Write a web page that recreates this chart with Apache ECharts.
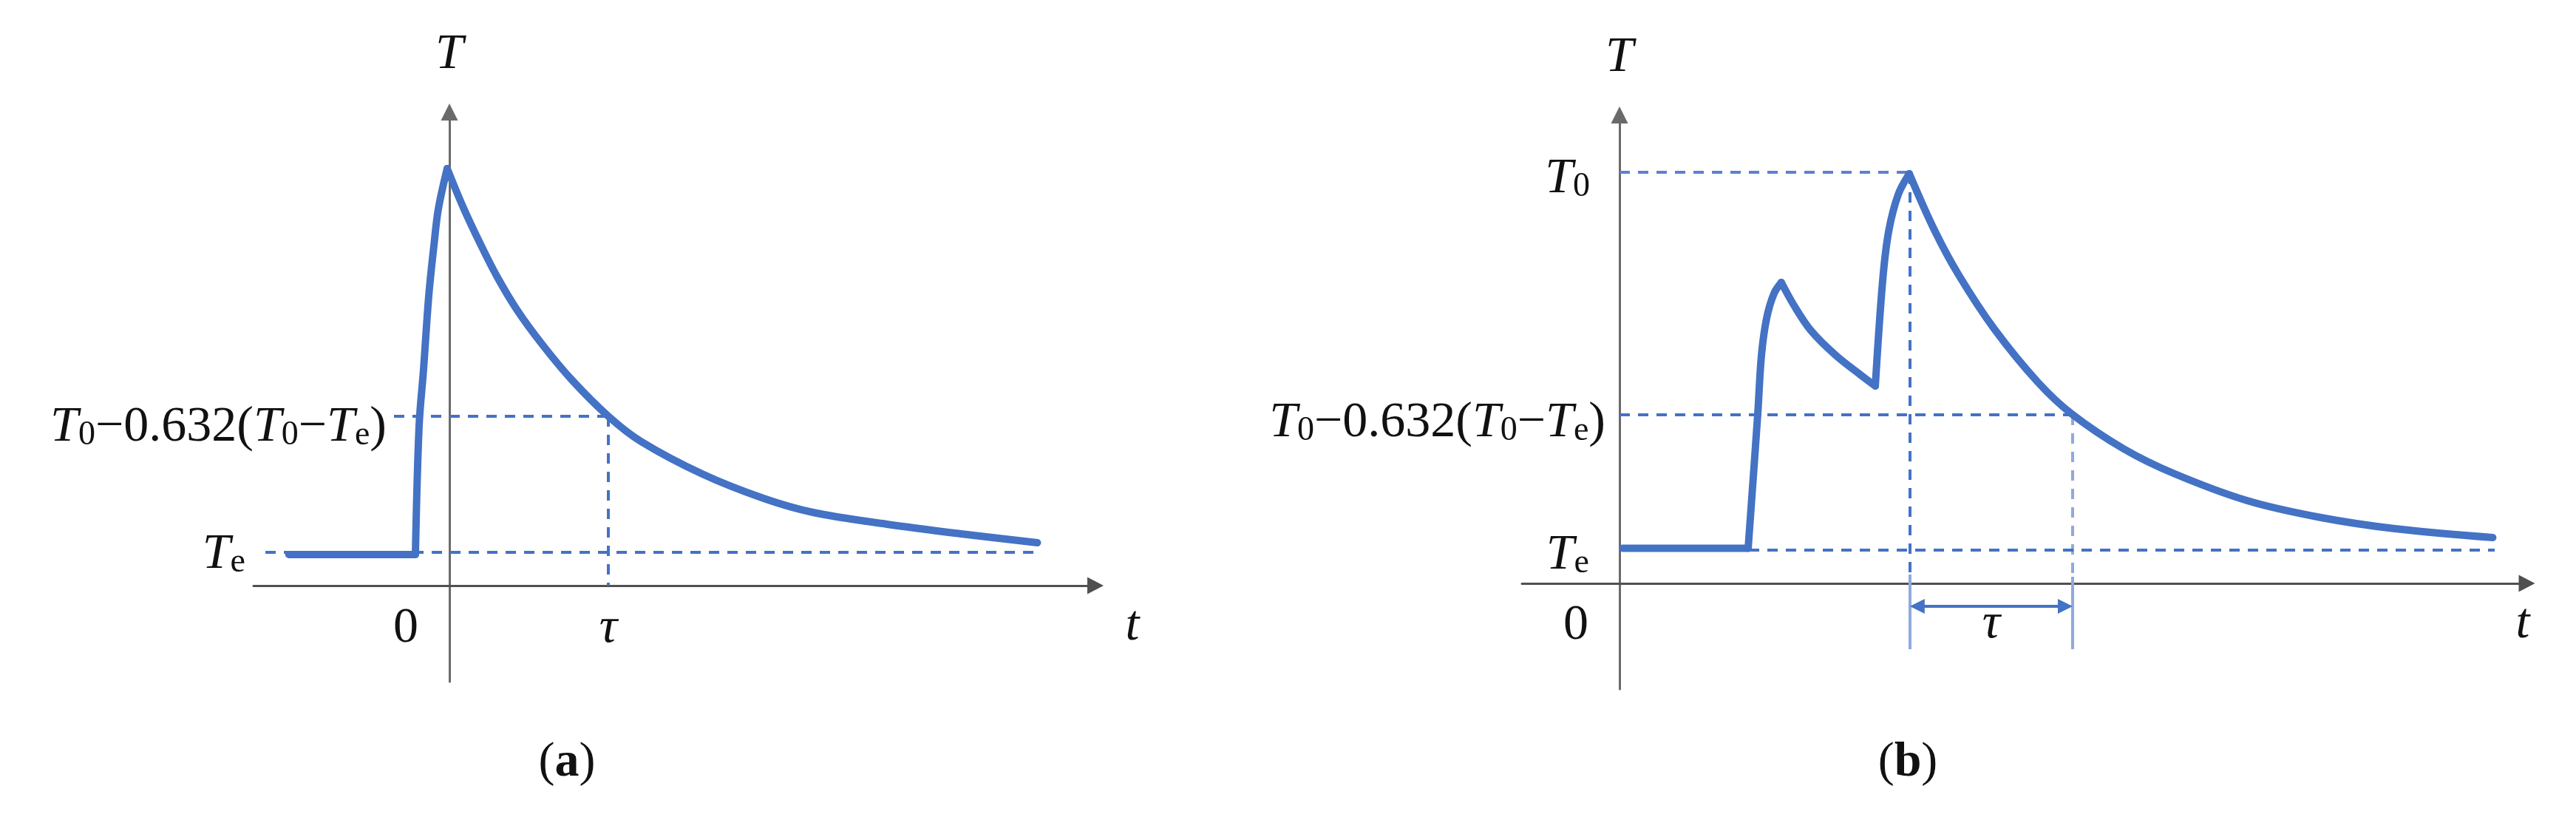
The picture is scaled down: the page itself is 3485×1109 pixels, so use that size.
<!DOCTYPE html>
<html>
<head>
<meta charset="utf-8">
<script src="https://cdn.jsdelivr.net/npm/echarts@6/dist/echarts.min.js"></script>
<style>
html,body{margin:0;padding:0;background:#ffffff;}
#chart{width:3485px;height:1109px;}
</style>
</head>
<body>
<div id="chart"></div>
<script>
// ---------------- data ----------------
// time t in units of tau; temperature in arbitrary units with the t axis at 0
// panel (a): single heating pulse then exponential cooling
const flatA = [[-1.01, 0.84], [-0.214, 0.84]];
const riseA = [[-0.214, 0.84], [-0.191, 4.30], [-0.163, 5.84], [-0.130, 7.84],
  [-0.098, 9.18], [-0.070, 10.18], [-0.014, 11.28]];
const decayA = [[-0.014, 11.28], [0.088, 10.22], [0.195, 9.24], [0.302, 8.34],
  [0.428, 7.44], [0.581, 6.54], [0.767, 5.58], [1.0, 4.58], [1.205, 3.90],
  [1.591, 3.02], [1.977, 2.36], [2.288, 1.98], [2.753, 1.66], [3.219, 1.40], [3.70, 1.16]];
const levelsA = [11.14, 4.58, 0.90];          // T0, T0-0.632(T0-Te), Te
const tauA = 1.0;                             // position of tau on the t axis
const spanT0A = [-1.237, -0.093];
const spanLevelA = [-0.349, 1.0];
const spanTeA = [-1.158, 3.684];
const xRangeA = [-1.2326, 4.0651];
const yRangeA = [-2.60, 12.81];

// panel (b): two heating pulses then exponential cooling
const flatB = [[0.02, 0.95], [0.791, 0.95]];
const rise1B = [[0.791, 0.95], [0.850, 4.58], [0.873, 6.18], [0.905, 7.18], [0.950, 7.84], [0.995, 8.14]];
const decay1B = [[0.995, 8.14], [1.073, 7.52], [1.177, 6.84], [1.327, 6.18], [1.482, 5.64], [1.573, 5.34]];
const rise2B = [[1.573, 5.34], [1.618, 8.18], [1.655, 9.52], [1.714, 10.52], [1.782, 11.08]];
const decay2B = [[1.782, 11.08], [1.936, 9.56], [2.086, 8.34], [2.305, 6.88], [2.573, 5.44],
  [2.782, 4.58], [3.100, 3.64], [3.405, 2.98], [3.859, 2.24], [4.314, 1.78],
  [4.768, 1.48], [5.37, 1.24]];
const levelsB = [11.12, 4.56, 0.90];          // T0, T0-0.632(T0-Te), Te
const peakB = [1.786, 11.08];                 // peak used as start of tau
const tauEndB = 2.786;
const spanTeB = [0, 5.382];
const extLeftB = [0.24, -1.78];
const extRightB = [0.18, -1.78];
const arrowYB = -0.62;
const arrowInset = 0.045;
const xRangeB = [-0.6, 5.5795];
const yRangeB = [-2.86, 12.67];

// texts
const levelLabels = ['{i|T}{s|0}', '{i|T}{s|0}{r|−0.632(}{i|T}{s|0}{r|−}{i|T}{s|e}{r|)}', '{i|T}{s|e}'];
const tickValuesA = [0, 1];
const tickLabelsA = ['{z|0}', '{ti|τ}'];
const tickValuesB = [0];
const tickLabelsB = ['{z|0}'];
const axisNameY = 'T';
const axisNameX = 't';
const tauLabel = 'τ';
const captionLetters = ['a', 'b'];

// ---------------- styles ----------------
const FONT = 'Liberation Serif';
const INK = '#111111';
const BLUE = '#4472C4';
const LIGHT = '#8FAADC';
const MID = '#5B82CC';
const DASH = [14, 11];
const RICH = {
  i: {fontFamily: FONT, fontStyle: 'italic', fontSize: 68, lineHeight: 80, verticalAlign: 'bottom', color: INK},
  r: {fontFamily: FONT, fontSize: 68, lineHeight: 80, verticalAlign: 'bottom', color: INK},
  s: {fontFamily: FONT, fontSize: 46, lineHeight: 39, verticalAlign: 'bottom', color: INK},
  z: {fontFamily: FONT, fontSize: 68, lineHeight: 68, padding: [0, 118, 0, 0], color: INK},
  ti: {fontFamily: FONT, fontStyle: 'italic', fontSize: 68, lineHeight: 68, color: INK},
  b: {fontFamily: FONT, fontWeight: 'bold', fontSize: 66, lineHeight: 70, color: INK},
  p: {fontFamily: FONT, fontSize: 66, lineHeight: 70, color: INK}
};

function hLine(x1, x2, y, color, text, distance, padding) {
  const label = text ? {
    show: true, position: 'start', distance: distance, padding: padding,
    formatter: function () { return text; }, rich: RICH, color: INK
  } : {show: false};
  return [
    {coord: [x1, y], lineStyle: {color: color, width: 4, type: DASH}, label: label},
    {coord: [x2, y]}
  ];
}
function vLine(x, y1, y2, color, type, width) {
  return [
    {coord: [x, y1], lineStyle: {color: color, width: width || 4, type: type || DASH}, label: {show: false}},
    {coord: [x, y2]}
  ];
}

function xAxisCfg(gridIndex, range, ticks, labels, nameGap, margin) {
  return {
    gridIndex: gridIndex, type: 'value', min: range[0], max: range[1],
    axisLine: {onZero: true, symbol: ['none', 'triangle'], symbolSize: [23, 22],
      lineStyle: {color: '#505050', width: 3}},
    axisTick: {show: false}, splitLine: {show: false},
    axisLabel: {
      customValues: ticks, margin: margin, rich: RICH,
      formatter: function (v) {
        for (let k = 0; k < ticks.length; k++) if (Math.abs(ticks[k] - v) < 1e-9) return labels[k];
        return '';
      }
    },
    name: axisNameX, nameLocation: 'end', nameGap: nameGap,
    nameTextStyle: {fontFamily: FONT, fontStyle: 'italic', fontSize: 68, lineHeight: 68,
      align: 'center', verticalAlign: 'top', padding: [21, 0, 0, 0], color: INK}
  };
}
function yAxisCfg(gridIndex, range) {
  return {
    gridIndex: gridIndex, type: 'value', min: range[0], max: range[1],
    axisLine: {onZero: true, symbol: ['none', 'triangle'], symbolSize: [23, 23],
      lineStyle: {color: '#6a6a6a', width: 3}},
    axisTick: {show: false}, splitLine: {show: false}, axisLabel: {show: false},
    name: axisNameY, nameLocation: 'end', nameGap: 43.5,
    nameTextStyle: {fontFamily: FONT, fontStyle: 'italic', fontSize: 68, lineHeight: 68, color: INK}
  };
}

function seg(name, gi, data, smooth, extra) {
  const s = {
    name: name, type: 'line', xAxisIndex: gi, yAxisIndex: gi, data: data,
    showSymbol: false, symbol: 'none', smooth: smooth,
    lineStyle: {color: BLUE, width: 10, join: 'round', cap: 'round'}, z: 3, silent: true
  };
  if (extra) Object.assign(s, extra);
  return s;
}

const markA = {
  silent: true, symbol: 'none', animation: false, z: 1, label: {show: false},
  data: [
    hLine(spanT0A[0], spanT0A[1], levelsA[0], LIGHT, levelLabels[0], 32, [10, 0, 0, 0]),
    hLine(spanLevelA[0], spanLevelA[1], levelsA[1], BLUE, levelLabels[1], 10, [18, 0, 0, 0]),
    vLine(tauA, levelsA[1], 0, BLUE),
    hLine(spanTeA[0], spanTeA[1], levelsA[2], BLUE, levelLabels[2], 27, [0, 0, 6, 0])
  ]
};
const markB = {
  silent: true, symbol: 'none', animation: false, z: 1, label: {show: false},
  data: [
    hLine(0, peakB[0], levelsB[0], MID, levelLabels[0], 40, [6, 0, 0, 0]),
    vLine(peakB[0], peakB[1], 0, BLUE),
    hLine(0, tauEndB, levelsB[1], BLUE, levelLabels[1], 19, [10, 0, 0, 0]),
    vLine(tauEndB, levelsB[1], 0, LIGHT),
    hLine(spanTeB[0], spanTeB[1], levelsB[2], BLUE, levelLabels[2], 41, [2, 0, 0, 0]),
    vLine(peakB[0], extLeftB[0], extLeftB[1], LIGHT, 'solid', 4),
    vLine(tauEndB, extRightB[0], extRightB[1], LIGHT, 'solid', 4),
    [
      {coord: [peakB[0] + arrowInset, arrowYB], symbol: 'triangle', symbolSize: [20, 20],
        lineStyle: {color: BLUE, width: 4, type: 'solid'},
        label: {show: true, position: 'insideMiddleBottom', distance: 4,
          formatter: function () { return tauLabel; },
          fontFamily: FONT, fontStyle: 'italic', fontSize: 68, lineHeight: 40, color: INK}},
      {coord: [tauEndB - arrowInset, arrowYB], symbol: 'triangle', symbolSize: [20, 20]}
    ]
  ]
};

const option = {
  animation: false,
  backgroundColor: '#ffffff',
  grid: [
    {left: 343, top: 151.5, width: 1139, height: 770.5, outerBoundsMode: 'none'},
    {left: 2059, top: 155.5, width: 1359.5, height: 776.5, outerBoundsMode: 'none'}
  ],
  xAxis: [
    xAxisCfg(0, xRangeA, tickValuesA, tickLabelsA, 50, -106),
    xAxisCfg(1, xRangeB, tickValuesB, tickLabelsB, -5.5, -120)
  ],
  yAxis: [yAxisCfg(0, yRangeA), yAxisCfg(1, yRangeB)],
  series: [
    seg('a-flat', 0, flatA, false, {markLine: markA}),
    seg('a-rise', 0, riseA, 0.35),
    seg('a-decay', 0, decayA, 0.35),
    seg('b-flat', 1, flatB, false, {markLine: markB}),
    seg('b-rise1', 1, rise1B, 0.35),
    seg('b-decay1', 1, decay1B, 0.35),
    seg('b-rise2', 1, rise2B, 0.35),
    seg('b-decay2', 1, decay2B, 0.35)
  ],
  graphic: captionLetters.map(function (c, k) {
    return {type: 'text', x: k === 0 ? 767 : 2581, y: 1032,
      style: {text: '{p|(}{b|' + c + '}{p|)}', rich: RICH,
        fontFamily: FONT, fontSize: 66, fill: INK, align: 'center', verticalAlign: 'middle'}};
  })
};

const chart = echarts.init(document.getElementById('chart'), null, {renderer: 'canvas'});
chart.setOption(option);
</script>
</body>
</html>
